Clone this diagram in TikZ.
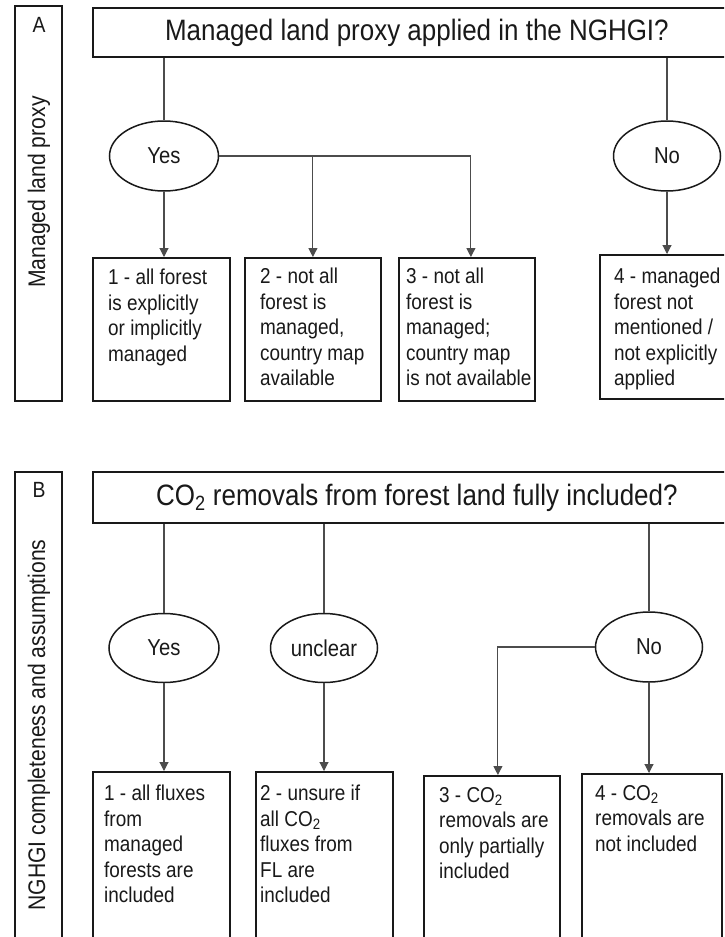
\documentclass[tikz,border=0pt]{standalone}
\usepackage{fontspec}
\setmainfont{Liberation Sans}[FakeStretch=0.88]
\usetikzlibrary{shapes.geometric,arrows.meta}
\begin{document}
\begin{tikzpicture}[x=1pt,y=-1pt,
  frame/.style={draw=black!90, line width=1.8pt},
  box/.style={frame, anchor=north west, inner sep=0pt},
  oval/.style={ellipse, draw=black!90, line width=1.5pt, inner sep=0pt,
    minimum width=108pt, minimum height=70pt, text=black!90,
    font=\fontsize{23}{27}\selectfont},
  conn/.style={draw=black!70, line width=1.1pt},
  arr/.style={conn, -{Triangle[width=9pt,length=9pt]}},
  btext/.style={anchor=north west, align=left, inner sep=0pt, text=black!90,
    font=\fontsize{21.5}{25.5}\selectfont},
  title/.style={frame, anchor=north west, inner sep=0pt, text=black!90,
    font=\fontsize{29.5}{34}\selectfont},
  side/.style={rotate=90, inner sep=0pt, text=black!90, font=\fontsize{24}{28}\selectfont},
  letter/.style={inner sep=0pt, text=black!90, font=\fontsize{22}{26}\selectfont},
]
\fill[white] (0,0) rectangle (724,937);
\useasboundingbox (0,0) rectangle (724,937);
\clip (0,0) rectangle (724,937);

% ---------------- Panel A ----------------
\node[box, minimum width=47pt, minimum height=395pt] (labA) at (14,5) {};
\node[letter] (letA) at (39,25) {A};
\node[side] (sideA) at (39,192) {Managed land proxy};

\node[title, minimum width=648pt, minimum height=49pt] (tA) at (92,7)
  {Managed land proxy applied in the NGHGI?};

\node[oval, minimum width=109pt] (yesA) at (164,156) {Yes};
\node[oval, minimum width=107pt] (noA) at (667,156) {No};

\node[box, minimum width=137pt, minimum height=143pt,
  label={[btext, xshift=16pt, yshift=-12pt]north west:{1 - all forest\\is explicitly\\or implicitly\\managed}}]
  (a1) at (92,257) {};
\node[box, minimum width=136pt, minimum height=143pt,
  label={[btext, xshift=16pt, yshift=-11pt]north west:{2 - not all\\forest is\\managed,\\country map\\available}}]
  (a2) at (244,257) {};
\node[box, minimum width=136pt, minimum height=143pt,
  label={[btext, xshift=8pt, yshift=-11pt]north west:{3 - not all\\forest is\\managed;\\country map\\is not available}}]
  (a3) at (398,257) {};
\node[box, minimum width=137pt, minimum height=144pt,
  label={[btext, xshift=15pt, yshift=-14pt]north west:{4 - managed\\forest not\\mentioned /\\not explicitly\\applied}}]
  (a4) at (599,254) {};

\draw[conn] (yesA.north |- tA.south) -- (yesA.north);
\draw[conn] (noA.north |- tA.south) -- (noA.north);
\draw[arr] (yesA.south) -- (yesA.south |- a1.north);
\draw[arr] (yesA.east) -| ([xshift=4pt]a3.north);
\draw[arr] (a2.north |- yesA.east) -- (a2.north);
\draw[arr] (noA.south) -- (noA.south |- a4.north);

% ---------------- Panel B ----------------
\node[box, minimum width=47pt, minimum height=520pt] (labB) at (14,471) {};
\node[letter] (letB) at (39,490) {B};
\node[side] (sideB) at (39,725) {NGHGI completeness and assumptions};

\node[title, minimum width=648pt, minimum height=51pt] (tB) at (92,471)
  {CO\textsubscript{2} removals from forest land fully included?};

\node[oval, minimum width=110pt, minimum height=69pt] (yesB) at (164,648) {Yes};
\node[oval, minimum width=107pt, minimum height=69pt] (uncB) at (324,648) {unclear};
\node[oval, minimum width=107pt, minimum height=70pt] (noB) at (649,647) {No};

\node[box, minimum width=137pt, minimum height=220pt,
  label={[btext, xshift=12pt, yshift=-14pt]north west:{1 - all fluxes\\from\\managed\\forests are\\included}}]
  (b1) at (92,771) {};
\node[box, minimum width=137pt, minimum height=220pt,
  label={[btext, xshift=5pt, yshift=-14pt]north west:{2 - unsure if\\all CO\textsubscript{2}\\fluxes from\\FL are\\included}}]
  (b2) at (255,771) {};
\node[box, minimum width=136pt, minimum height=220pt,
  label={[btext, xshift=16pt, yshift=-12pt]north west:{3 - CO\textsubscript{2}\\removals are\\only partially\\included}}]
  (b3) at (423,775) {};
\node[box, minimum width=140pt, minimum height=220pt,
  label={[btext, xshift=14pt, yshift=-12pt]north west:{4 - CO\textsubscript{2}\\removals are\\not included}}]
  (b4) at (581,773) {};

\draw[conn] (yesB.north |- tB.south) -- (yesB.north);
\draw[conn] (uncB.north |- tB.south) -- (uncB.north);
\draw[conn] (noB.north |- tB.south) -- (noB.north);
\draw[arr] (yesB.south) -- (yesB.south |- b1.north);
\draw[arr] (uncB.south) -- (uncB.south |- b2.north);
\draw[arr] (noB.west) -| ([xshift=6pt]b3.north);
\draw[arr] (noB.south) -- (noB.south |- b4.north);
\end{tikzpicture}
\end{document}
